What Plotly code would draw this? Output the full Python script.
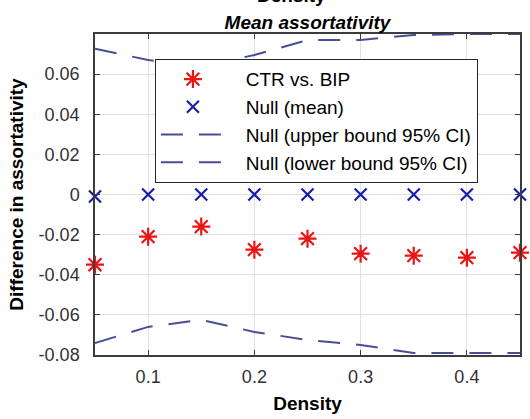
import plotly.graph_objects as go

density = [0.05, 0.10, 0.15, 0.20, 0.25, 0.30, 0.35, 0.40, 0.45]
ctr_vs_bip = [-0.035, -0.021, -0.016, -0.0275, -0.022, -0.0295, -0.0305, -0.0315, -0.029]
null_mean = [-0.001, 0.0, 0.0, 0.0, 0.0, 0.0, 0.0, 0.0, 0.0]
null_upper = [0.0727, 0.067, 0.064, 0.0695, 0.077, 0.077, 0.0795, 0.080, 0.080]
null_lower = [-0.074, -0.066, -0.0625, -0.0685, -0.0725, -0.075, -0.079, -0.079, -0.079]

y_ticks = [0.06, 0.04, 0.02, 0, -0.02, -0.04, -0.06, -0.08]
y_tick_labels = ["0.06", "0.04", "0.02", "0", "-0.02", "-0.04", "-0.06", "-0.08"]
x_ticks = [0.1, 0.2, 0.3, 0.4]
x_tick_labels = ["0.1", "0.2", "0.3", "0.4"]

FONT = "Liberation Sans, Arial, sans-serif"
LINE_COL = "rgb(72,78,150)"
PAD = "\u00a0\u00a0\u00a0"

fig = go.Figure()
fig.add_trace(go.Scatter(
    x=density, y=ctr_vs_bip, mode="markers", name=PAD + "CTR vs. BIP",
    marker=dict(symbol="asterisk-open", size=15, color="rgb(235,20,20)",
                line=dict(color="rgb(235,20,20)", width=2.2)),
    cliponaxis=False))
fig.add_trace(go.Scatter(
    x=density, y=null_mean, mode="markers", name=PAD + "Null (mean)",
    marker=dict(symbol="x-thin-open", size=12, color="rgb(25,30,170)",
                line=dict(color="rgb(25,30,170)", width=2.2)),
    cliponaxis=False))
fig.add_trace(go.Scatter(
    x=density, y=null_upper, mode="lines", name=PAD + "Null (upper bound 95% CI)",
    line=dict(color=LINE_COL, width=2, dash="22px,16px")))
fig.add_trace(go.Scatter(
    x=density, y=null_lower, mode="lines", name=PAD + "Null (lower bound 95% CI)",
    line=dict(color=LINE_COL, width=2, dash="22px,16px")))

axis_common = dict(
    showgrid=True, gridcolor="rgb(225,225,225)", gridwidth=1,
    showline=True, linecolor="rgb(60,60,60)", linewidth=1.5, mirror="ticks",
    ticks="inside", ticklen=5, tickcolor="rgb(60,60,60)", tickwidth=1,
    zeroline=False,
    tickfont=dict(family=FONT, size=18, color="rgb(50,50,50)"),
)

fig.update_layout(
    width=530, height=419,
    margin=dict(l=95, r=8, t=34, b=64),
    paper_bgcolor="white", plot_bgcolor="white",
    font=dict(family=FONT, color="black"),
    title=dict(text="<b><i>Mean assortativity</i></b>", x=0.5, xref="paper",
               y=1 - 22 / 419, yanchor="middle",
               font=dict(family=FONT, size=19, color="black")),
    xaxis=dict(range=[0.05, 0.45], tickvals=x_ticks, ticktext=x_tick_labels,
               ticklabelstandoff=5,
               title=dict(text="<b>Density</b>", standoff=10,
                          font=dict(family=FONT, size=19, color="black")),
               **axis_common),
    yaxis=dict(range=[-0.08, 0.08], tickvals=y_ticks, ticktext=y_tick_labels,
               ticklabelstandoff=10,
               title=dict(text="<b>Difference in assortativity</b>", standoff=10,
                          font=dict(family=FONT, size=19, color="black")),
               **axis_common),
    legend=dict(x=(155 - 95) / 427, y=1 - (59 - 34) / 321, xanchor="left", yanchor="top",
                bgcolor="white", bordercolor="rgb(40,40,40)", borderwidth=1.2,
                font=dict(family=FONT, size=19, color="black"),
                itemwidth=64, tracegroupgap=0),
    showlegend=True,
)

fig.add_annotation(text="<b>Density</b>", xref="paper", yref="paper",
                   x=(292 - 95) / 427, y=1 + (34 + 5) / 321, xanchor="center",
                   yanchor="middle", showarrow=False,
                   font=dict(family=FONT, size=19, color="black"))

fig.write_html("out.html")
